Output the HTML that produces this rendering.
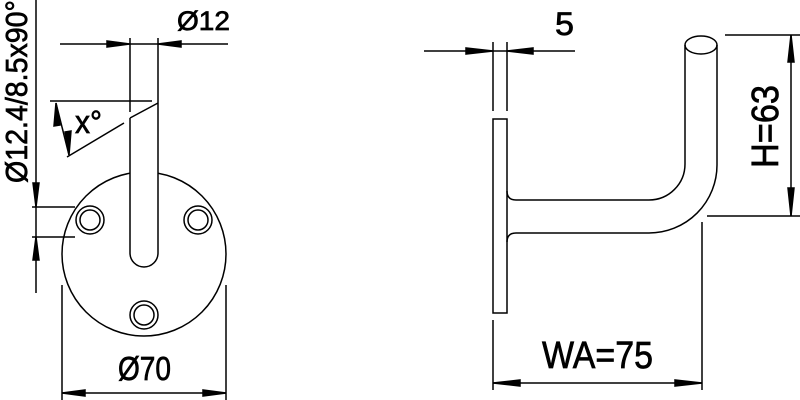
<!DOCTYPE html>
<html><head><meta charset="utf-8"><style>html,body{margin:0;padding:0;background:#fff}svg{display:block}</style></head>
<body>
<svg width="800" height="400" viewBox="0 0 800 400" xmlns="http://www.w3.org/2000/svg" font-family="Liberation Sans, sans-serif" fill="none" stroke="#000" stroke-width="1.5">
<g>
<line x1="36" y1="0" x2="36" y2="293"/>
<line x1="32" y1="207" x2="75" y2="207"/>
<line x1="32" y1="237" x2="75" y2="237"/>
<polygon points="36,207 33,183 39,183" fill="#000"/>
<polygon points="36,237 33,260 39,260" fill="#000"/>
<circle cx="144" cy="254" r="82"/>
<circle cx="90" cy="220" r="14"/><circle cx="90" cy="220" r="10"/>
<circle cx="198" cy="220" r="14"/><circle cx="198" cy="220" r="10"/>
<circle cx="144" cy="315" r="14"/><circle cx="144" cy="315" r="10"/>
<path d="M130 38 V112 M130 118 L158 103 M158 38 V253 A14 14 0 0 1 130 253 V118" fill="#fff"/>
<line x1="60" y1="44" x2="228" y2="44"/>
<polygon points="130,44 107,41 107,47" fill="#000"/>
<polygon points="158,44 181,41 181,47" fill="#000"/>
<line x1="50" y1="101" x2="152" y2="101"/>
<line x1="67" y1="157" x2="124" y2="123"/>
<line x1="56" y1="103" x2="69" y2="155"/>
<polygon points="56,103 54,126 60,125" fill="#000"/>
<polygon points="69,155 65,132 71,131" fill="#000"/>
<line x1="62" y1="285" x2="62" y2="400"/>
<line x1="226" y1="285" x2="226" y2="400"/>
<line x1="62" y1="393" x2="226" y2="393"/>
<polygon points="62,393 85,390 85,396" fill="#000"/>
<polygon points="226,393 203,390 203,396" fill="#000"/>
<rect x="493" y="119" width="14" height="194"/>
<line x1="493" y1="42" x2="493" y2="111"/>
<line x1="507" y1="42" x2="507" y2="111"/>
<line x1="424" y1="51" x2="575" y2="51"/>
<polygon points="493,51 466,48 466,54" fill="#000"/>
<polygon points="507,51 533,48 533,54" fill="#000"/>
<path d="M507 191 Q507 200 516 200 H649 A36 36 0 0 0 685 164 V45"/>
<path d="M507 242 Q507 233 516 233 H649 A68 68 0 0 0 717 165 V45"/>
<ellipse cx="701" cy="45" rx="16" ry="9"/>
<line x1="725" y1="35" x2="800" y2="35"/>
<line x1="707" y1="216" x2="800" y2="216"/>
<line x1="791" y1="35" x2="791" y2="216"/>
<polygon points="791,35 788,62 794,62" fill="#000"/>
<polygon points="791,216 788,188 794,188" fill="#000"/>
<line x1="493" y1="320" x2="493" y2="390"/>
<line x1="702" y1="222" x2="702" y2="390"/>
<line x1="493" y1="383" x2="702" y2="383"/>
<polygon points="493,383 520,380 520,386" fill="#000"/>
<polygon points="702,383 675,380 675,386" fill="#000"/>
</g>
<g fill="#000" stroke="#000" stroke-width="0.7">
<text transform="translate(27,183) rotate(-90)" font-size="31" textLength="183" lengthAdjust="spacingAndGlyphs">Ø12.4/8.5x90°</text>
<text x="177" y="30" font-size="27" textLength="53" lengthAdjust="spacingAndGlyphs">Ø12</text>
<text x="75" y="133" font-size="32" textLength="27" lengthAdjust="spacingAndGlyphs">x°</text>
<text x="118" y="380" font-size="33" textLength="53" lengthAdjust="spacingAndGlyphs">Ø70</text>
<text x="555" y="35" font-size="32" textLength="19" lengthAdjust="spacingAndGlyphs">5</text>
<text transform="translate(778,168) rotate(-90)" font-size="38" textLength="83" lengthAdjust="spacingAndGlyphs">H=63</text>
<text x="542" y="368" font-size="38" textLength="111" lengthAdjust="spacingAndGlyphs">WA=75</text>
</g>
</svg>
</body></html>
